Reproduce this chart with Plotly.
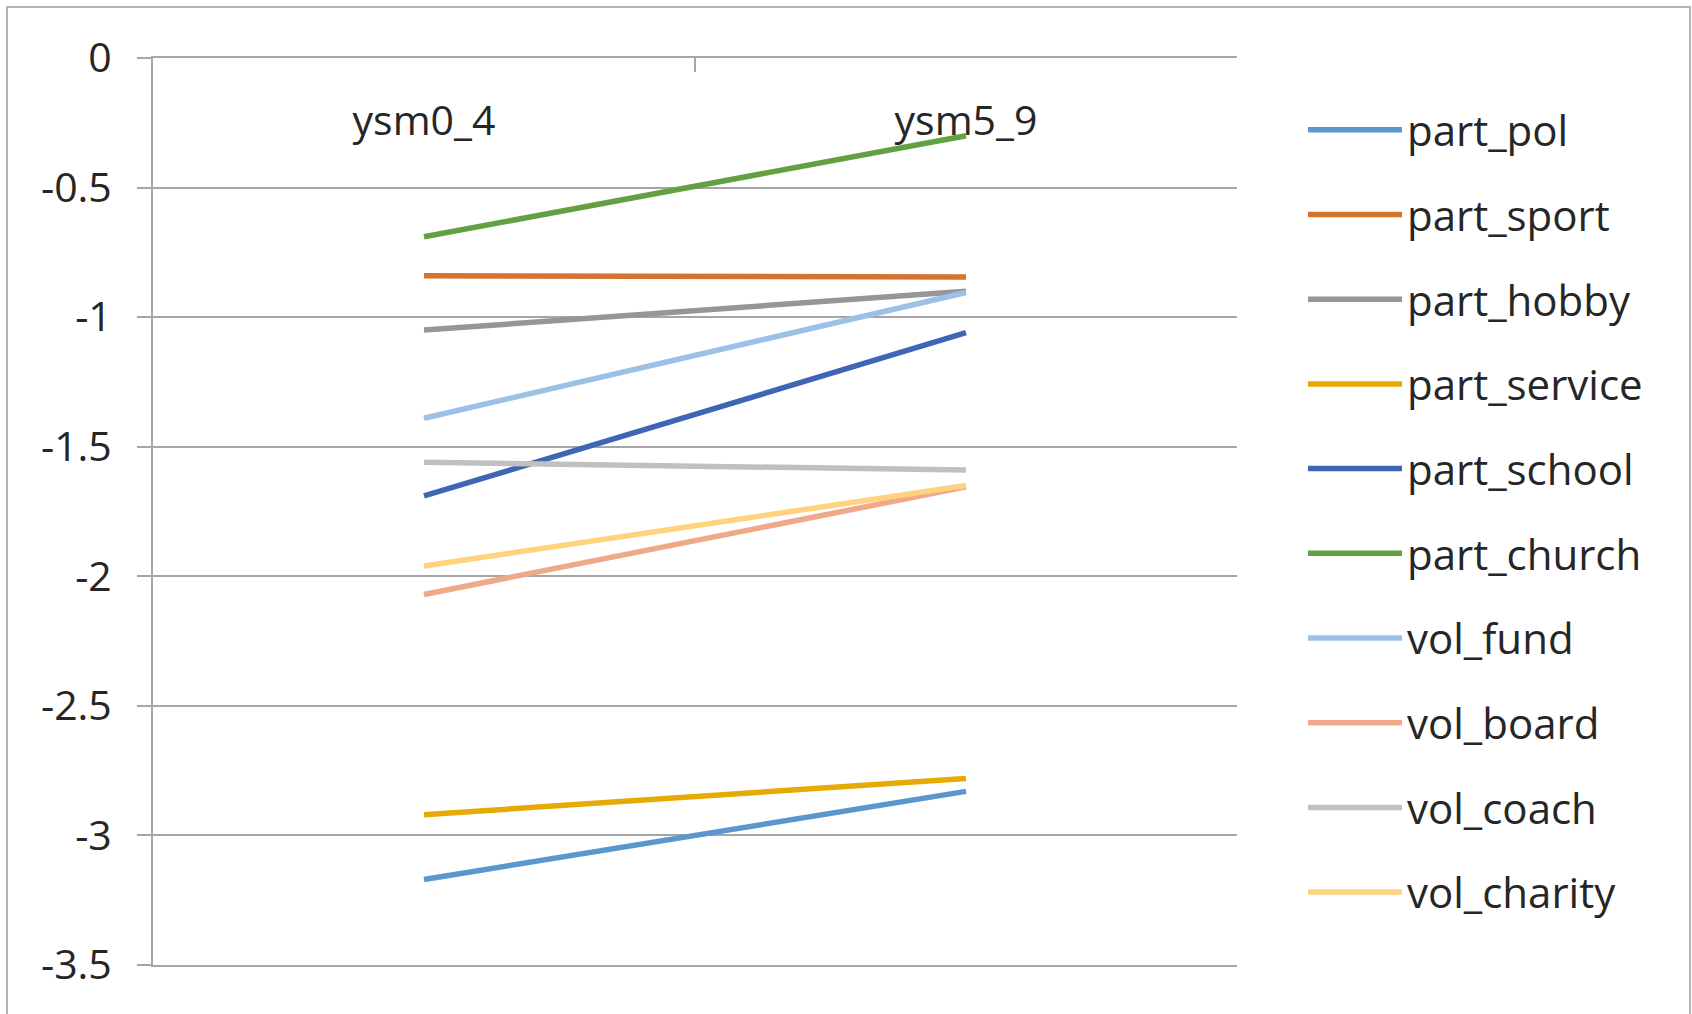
import plotly.graph_objects as go

# ---------------- data ----------------
categories = ["ysm0_4", "ysm5_9"]
series_names = ["part_pol", "part_sport", "part_hobby", "part_service", "part_school",
                "part_church", "vol_fund", "vol_board", "vol_coach", "vol_charity"]
ysm0_4 = [-3.17, -0.84, -1.05, -2.92, -1.69, -0.69, -1.39, -2.07, -1.56, -1.96]
ysm5_9 = [-2.83, -0.845, -0.90, -2.78, -1.06, -0.30, -0.905, -1.655, -1.59, -1.65]
y_tick_values = [0, -0.5, -1, -1.5, -2, -2.5, -3, -3.5]
y_tick_labels = ["0", "-0.5", "-1", "-1.5", "-2", "-2.5", "-3", "-3.5"]

# ---------------- style ----------------
colors = ["#5B96CF", "#D8722F", "#969696", "#E6AA05", "#3E66B4",
          "#62A140", "#9CC0E6", "#F0A88A", "#C0C0C0", "#FFD27E"]
FONT = "Open Sans"
TEXT = "#262626"
GRID = "#a6a6a6"

W, H = 1692, 1014
L, R, T, B = 153, 1692 - 1237, 58, 1014 - 965
pw, ph = W - L - R, H - T - B

fig = go.Figure()

# carrier trace for the category label axis (no visible marks)
fig.add_trace(go.Scatter(
    x=categories, y=[None, None], xaxis="x2", mode="lines",
    showlegend=False, hoverinfo="skip", line=dict(width=0),
))

for name, a, b, c in zip(series_names, ysm0_4, ysm5_9, colors):
    fig.add_trace(go.Scatter(
        x=categories, y=[a, b], name=name, mode="lines",
        legendgroup=name,
        line=dict(color=c, width=5.5),
    ))

def px_x(x):
    return (x - L) / pw

def px_y(y):
    return (H - B - y) / ph

fig.update_layout(
    width=W, height=H,
    margin=dict(l=L, r=R, t=T, b=B, pad=0),
    paper_bgcolor="white", plot_bgcolor="white",
    font=dict(family=FONT, size=41, color=TEXT),
    showlegend=True,
    legend=dict(
        x=px_x(1303), y=px_y(96), xanchor="left", yanchor="top",
        font=dict(family=FONT, size=42, color=TEXT),
        bgcolor="rgba(0,0,0,0)", borderwidth=0,
        itemwidth=94, tracegroupgap=27.1,
    ),
    xaxis=dict(
        type="category", range=[-0.5, 1.5], side="top",
        showgrid=False, zeroline=False,
        showline=True, linecolor=GRID, linewidth=2, mirror=True,
        ticks="inside", ticklen=14, tickwidth=2, tickcolor=GRID,
        tickson="boundaries",
        showticklabels=False,
    ),
    xaxis2=dict(
        type="category", overlaying="x", anchor="free", position=px_y(143), side="top",
        range=[-0.5, 1.5],
        showgrid=False, zeroline=False, showline=False, ticks="",
        tickfont=dict(family=FONT, size=41, color=TEXT),
    ),
    yaxis=dict(
        range=[-3.5, 0],
        tickmode="array", tickvals=y_tick_values, ticktext=y_tick_labels,
        showgrid=True, gridcolor=GRID, gridwidth=2,
        zeroline=False,
        showline=True, linecolor=GRID, linewidth=2,
        ticks="outside", ticklen=14, tickwidth=2, tickcolor=GRID,
        ticklabelstandoff=17,
        tickfont=dict(family=FONT, size=41, color=TEXT),
    ),
    shapes=[dict(
        type="rect", xref="paper", yref="paper",
        x0=px_x(7), x1=px_x(1690), y0=px_y(1040), y1=px_y(7),
        line=dict(color="#b4b4b4", width=2), fillcolor="rgba(0,0,0,0)", layer="below",
    )],
)

fig.write_html(
    "out.html",
    config={"displayModeBar": False},
    post_script="document.body.style.margin='0';document.body.style.overflow='hidden';",
)
